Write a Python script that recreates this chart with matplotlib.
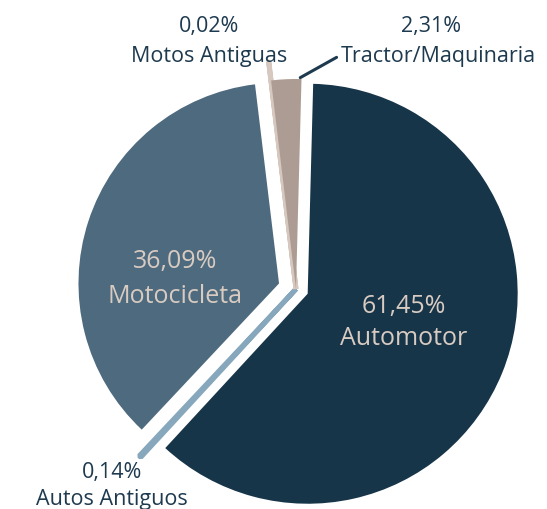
import matplotlib.pyplot as plt
import numpy as np

plt.rcParams['font.family'] = ['Open Sans', 'DejaVu Sans']

# Data (clockwise from 12 o'clock)
categories = ['Automotor', 'Autos Antiguos', 'Motocicleta', 'Motos Antiguas', 'Tractor/Maquinaria']
shares = [61.45, 0.14, 36.09, 0.02, 2.31]
pct_labels = ['61,45%', '0,14%', '36,09%', '0,02%', '2,31%']
colors = ['#173549', '#86A7BC', '#4E6A7E', '#D6C8BF', '#AD9C93']
explode = [0.06, 0.0, 0.085, 0.0, 0.0]
slivers = [1, 3]

NAVY = '#1E3A4F'
LIGHT = '#D8CBC2'

W, H = 547, 510
CX, CY, R = 296, 290, 210  # pie centre / radius in pixels

fig = plt.figure(figsize=(W / 100, H / 100), dpi=100)
ax = fig.add_axes([0, 0, 1, 1])

wedges, _ = ax.pie(shares, colors=colors, startangle=88.5, counterclock=False,
                   explode=explode, radius=1)
wedges[2].set_radius(0.955)
for i in slivers:
    w = wedges[i]
    w.set_radius(1.09)
    w.set_edgecolor(colors[i])
    w.set_linewidth(3.6)
    w.set_joinstyle('bevel')

ax.set_aspect('auto')
ax.set_xlim(-CX / R, (W - CX) / R)
ax.set_ylim(-(H - CY) / R, CY / R)
ax.axis('off')


def fx(px):
    return px / W


def fy(py):
    return 1 - py / H


# labels inside the big slices
ax.text(fx(175), fy(268), pct_labels[2], transform=ax.transAxes, ha='center', va='baseline',
        color=LIGHT, fontsize=18)
ax.text(fx(175), fy(303), categories[2], transform=ax.transAxes, ha='center', va='baseline',
        color=LIGHT, fontsize=18)
ax.text(fx(404), fy(313), pct_labels[0], transform=ax.transAxes, ha='center', va='baseline',
        color=LIGHT, fontsize=18)
ax.text(fx(404), fy(345), categories[0], transform=ax.transAxes, ha='center', va='baseline',
        color=LIGHT, fontsize=18)

# outside labels
ax.text(fx(209), fy(32), pct_labels[3], transform=ax.transAxes, ha='center', va='baseline',
        color=NAVY, fontsize=15.5)
ax.text(fx(209), fy(62), categories[3], transform=ax.transAxes, ha='center', va='baseline',
        color=NAVY, fontsize=15.5)
ax.text(fx(431), fy(32), pct_labels[4], transform=ax.transAxes, ha='center', va='baseline',
        color=NAVY, fontsize=15.5)
ax.text(fx(341), fy(62), categories[4], transform=ax.transAxes, ha='left', va='baseline',
        color=NAVY, fontsize=15.5)
ax.text(fx(112), fy(478), pct_labels[1], transform=ax.transAxes, ha='center', va='baseline',
        color=NAVY, fontsize=15.5)
ax.text(fx(112), fy(505), categories[1], transform=ax.transAxes, ha='center', va='baseline',
        color=NAVY, fontsize=15.5)

# leader line for Tractor/Maquinaria
tw = wedges[4]
ang = np.deg2rad(tw.theta1 + 1.0)
cx, cy = tw.center
ax.annotate('', xy=(cx + tw.r * np.cos(ang), cy + tw.r * np.sin(ang)),
            xytext=(fx(339), fy(57)), textcoords='axes fraction',
            arrowprops=dict(arrowstyle='-', color=NAVY, lw=2.2))

fig.savefig('out.png', dpi=100)
